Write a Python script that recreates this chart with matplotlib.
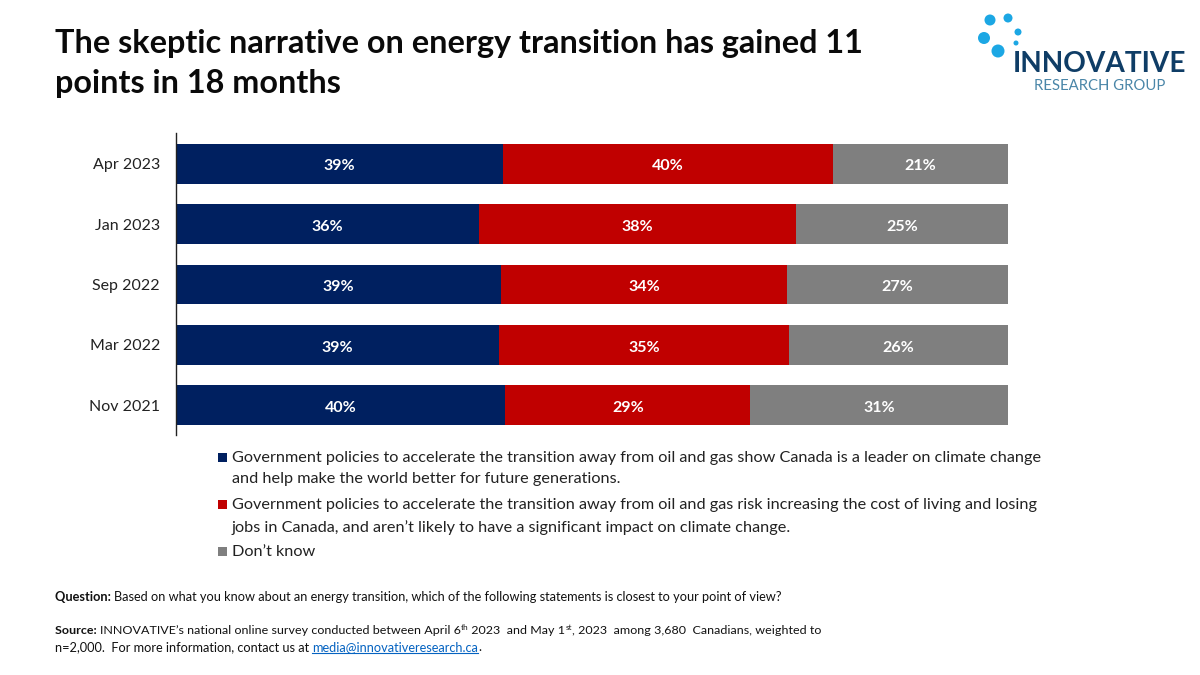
import matplotlib
matplotlib.use('Agg')
import matplotlib.pyplot as plt
from matplotlib.patches import Circle, Rectangle

plt.rcParams['font.family'] = ['Lato', 'DejaVu Sans']

dates = ['Apr 2023', 'Jan 2023', 'Sep 2022', 'Mar 2022', 'Nov 2021']
leader = [39.3, 36.45, 39.06, 38.8, 39.6]
risk = [39.7, 38.1, 34.4, 34.9, 29.4]
dont_know = [21.0, 25.45, 26.54, 26.3, 31.0]

navy = '#002060'
red = '#C00000'
grey = '#7F7F7F'
W, H = 1200, 675

fig = plt.figure(figsize=(12, 6.75), dpi=100)

# overlay in pixel coords for all the text around the chart
bg = fig.add_axes([0, 0, 1, 1])
bg.set_xlim(0, W)
bg.set_ylim(H, 0)
bg.axis('off')


def runs(x, y, parts, size):
    # write pieces of text one after the other on the same baseline
    r = fig.canvas.get_renderer()
    for p in parts:
        s = p[0]
        weight = p[1] if len(p) > 1 else 'normal'
        sup = len(p) > 2 and p[2] == 'sup'
        color = p[3] if len(p) > 3 else '#111111'
        t = bg.text(x, y - (4 if sup else 0), s, fontsize=size * (0.65 if sup else 1),
                    fontweight=weight, color=color, va='baseline', ha='left')
        x0 = x
        x += t.get_window_extent(r).width
        if color != '#111111':
            bg.plot([x0, x], [y + 2, y + 2], color=color, lw=0.8)
    return x


# title
bg.text(55, 53, 'The skeptic narrative on energy transition has gained 11', fontsize=23.35,
        fontweight='bold', color='#0a0a0a', va='baseline')
bg.text(55, 93, 'points in 18 months', fontsize=23.35, fontweight='bold', color='#0a0a0a', va='baseline')

# logo
dots = [(990, 20, 5.5), (1008, 18, 4.5), (1018, 32, 3.5), (984, 38, 6), (998, 51, 6.5), (1016, 43, 2.5)]
for cx, cy, rad in dots:
    bg.add_patch(Circle((cx, cy), rad, color='#1CA7E4', lw=0))
bg.text(1013, 72, 'INNOVATIVE', fontsize=20.2, color='#0F3D66', fontweight='bold', va='baseline')
bg.text(1034, 90, 'RESEARCH GROUP', fontsize=10.7, color='#4A86A8', va='baseline')

# chart
ax = fig.add_axes([176 / W, 1 - 435 / H, 832 / W, 302 / H])
left = [0] * len(dates)
for vals, col in [(leader, navy), (risk, red), (dont_know, grey)]:
    bars = ax.barh(dates, vals, left=left, height=0.66, color=col, lw=0)
    labels = ax.bar_label(bars, labels=[f'{v:.0f}%' for v in vals], label_type='center', color='white',
                          fontsize=11.5, fontweight='bold')
    for lb in labels:
        lb.xyann = (0, -2)
    left = [a + b for a, b in zip(left, vals)]
ax.set_xlim(0, 100)
ax.set_ylim(len(dates) - 0.5 - 0.008, -0.5 - 0.008)
ax.xaxis.set_visible(False)
for s in ['top', 'right', 'bottom']:
    ax.spines[s].set_visible(False)
ax.spines['left'].set_color('#222222')
ax.spines['left'].set_linewidth(1)
ax.tick_params(axis='y', length=0, pad=11.5, labelsize=11.5, labelcolor='#222222')

# legend, written by hand because of the wrapped two line entries
legend_rows = [
    (navy, ['Government policies to accelerate the transition away from oil and gas show Canada is a leader on climate change',
            'and help make the world better for future generations.'], [462, 483]),
    (red, ['Government policies to accelerate the transition away from oil and gas risk increasing the cost of living and losing',
           'jobs in Canada, and aren\u2019t likely to have a significant impact on climate change.'], [509, 532]),
    (grey, ['Don\u2019t know'], [556]),
]
for col, lines, ys in legend_rows:
    bg.add_patch(Rectangle((218, ys[0] - 9), 9, 9, color=col, lw=0))
    for line, y in zip(lines, ys):
        bg.text(232, y, line, fontsize=11.7, color='#222222', va='baseline')

# footnotes
runs(55, 601, [('Question: ', 'bold'),
               ('Based on what you know about an energy transition, which of the following statements is closest to your point of view?',)], 9.15)
runs(55, 634, [('Source: ', 'bold'),
               ('INNOVATIVE\u2019s national online survey conducted between April 6',),
               ('th', 'normal', 'sup'), (' 2023  and May 1',), ('st', 'normal', 'sup'),
               (', 2023  among 3,680  Canadians, weighted to',)], 8.97)
runs(55, 651, [('n=2,000.  For more information, contact us at ',),
               ('media@innovativeresearch.ca', 'normal', 'normal', '#0563C1'), ('.',)], 9.2)

fig.savefig('out.png', dpi=100)
